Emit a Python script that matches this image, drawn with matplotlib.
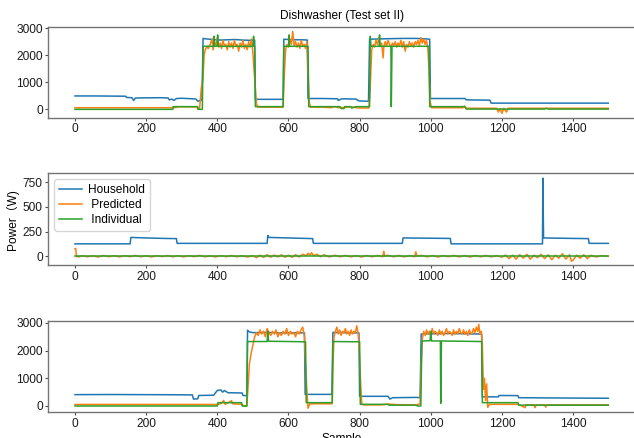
import numpy as np
import matplotlib
matplotlib.use("Agg")
import matplotlib.pyplot as plt

plt.rcParams['font.family'] = ['Liberation Sans', 'Noto Sans CJK SC', 'DejaVu Sans']
plt.rcParams['font.size'] = 8.6

title = "Dishwasher (Test set II)"
ylabel = "Power（W)"
xlabel = "Sample"
labels = ["Household", " Predicted", " Individual"]
colors = ["#1f77b4", "#ff7f0e", "#2ca02c"]
xticks = [0, 200, 400, 600, 800, 1000, 1200, 1400]

# ---------------- Panel 1 ----------------
p1_household = [(0,495),(60,495),(100,490),(142,485),(145,440),(160,430),(165,330),(170,420),(200,425),
    (240,430),(262,420),(265,350),(272,380),(278,330),(285,400),(300,410),(330,390),(340,380),(345,300),
    (352,330),(357,350),(360,2620),(370,2600),(380,2590),(395,2570),(410,2560),(430,2570),(450,2580),
    (470,2560),(490,2550),(505,2560),(507,370),(585,370),(587,2590),(600,2580),(620,2570),(640,2570),
    (653,2560),(655,400),(700,400),(738,390),(740,330),(750,390),(790,380),(795,330),(800,310),(825,300),
    (828,2590),(850,2600),(880,2610),(920,2620),(960,2620),(990,2600),(997,2590),(999,400),(1096,400),
    (1100,350),(1166,340),(1170,230),(1499,230)]
p1_predicted = [(0,60),(270,60),(285,70),(290,95),(343,90),(345,10),(350,20),(352,300),(355,800),(357,900),
    (360,1200),(363,2000),(366,2200),(370,2300),(375,2250),(380,2400),(385,2600),(388,2200),(392,2500),
    (396,2350),(400,2650),(404,2300),(408,2450),(412,2250),(416,2550),(420,2350),(424,2400),(428,2200),
    (432,2500),(436,2300),(440,2450),(444,2250),(448,2550),(452,2350),(456,2400),(460,2150),(464,2450),
    (468,2300),(472,2550),(476,2250),(480,2400),(484,2200),(488,2500),(492,2300),(496,2600),(500,2100),
    (503,1500),(507,800),(510,200),(515,80),(585,80),(588,1200),(592,2200),(596,2400),(600,2300),
    (604,2600),(608,2400),(612,2880),(616,2350),(620,2500),(624,2300),(628,2450),(632,2250),(636,2550),
    (640,2350),(644,2400),(648,2250),(652,2500),(655,1500),(658,300),(662,80),(700,80),(720,60),(730,100),
    (740,60),(760,70),(780,90),(790,60),(800,50),(826,50),(829,600),(831,1200),(834,2200),(838,2400),
    (842,2300),(846,2550),(850,2400),(854,2650),(858,2350),(862,2450),(866,1900),(868,2300),(872,2500),
    (876,2350),(880,2550),(884,2400),(888,2300),(892,2450),(896,2350),(900,2500),(904,2300),(908,2450),
    (912,2350),(916,2550),(920,2300),(924,2500),(928,2150),(932,2400),(936,2300),(940,2500),(944,2350),
    (948,2450),(952,2300),(956,2500),(960,2400),(964,2550),(968,2350),(972,2650),(976,2450),(980,2600),
    (984,2400),(988,2550),(992,2200),(995,1500),(998,300),(1002,60),(1090,60),(1095,120),(1100,40),
    (1185,40),(1190,-100),(1195,30),(1200,-150),(1205,40),(1213,-100),(1217,40),(1499,40)]
p1_individual = [(0,0),(275,0),(276,100),(345,100),(346,0),(358,0),(360,2330),(390,2330),(391,2700),
    (392,2330),(400,2330),(401,2750),(402,2330),(500,2330),(502,2700),(504,2330),(505,2330),(507,100),
    (585,100),(587,2330),(601,2330),(602,2750),(603,2330),(655,2330),(657,100),(745,100),(748,30),
    (756,30),(758,100),(775,100),(778,50),(790,100),(828,100),(830,2700),(832,2330),(855,2330),
    (856,2750),(857,2330),(888,2330),(889,100),(891,2330),(995,2330),(997,100),(1095,100),(1100,10),
    (1320,10),(1325,40),(1330,10),(1499,10)]

# ---------------- Panel 2 ----------------
p2_household = [(0,125),(155,125),(157,190),(200,185),(250,180),(285,178),(287,130),(540,130),(542,210),
    (545,190),(600,185),(668,178),(670,130),(920,130),(922,185),(1000,182),(1055,180),(1057,125),
    (1314,125),(1315,790),(1317,185),(1400,180),(1443,178),(1445,130),(1499,130)]
p2_predicted = [(0,75),(2,80),(4,-5),(6,5),(10,-8),(20,6),(35,-6),(50,4),(65,-8),(80,7),(95,-5),(110,5),
    (125,-7),(140,6),(155,-5),(170,8),(185,-6),(200,5),(215,-8),(230,6),(245,-4),(260,7),(275,-6),(290,5),
    (305,-7),(320,6),(335,-5),(350,8),(365,-6),(380,4),(395,-7),(410,6),(425,-5),(440,7),(455,-6),(470,5),
    (485,-8),(500,6),(510,-15),(520,10),(530,-12),(540,15),(550,-10),(560,12),(570,-8),(580,14),(590,-10),
    (600,10),(610,-12),(620,15),(630,-8),(640,20),(650,5),(655,30),(660,10),(665,35),(670,5),(680,20),
    (690,-5),(700,15),(715,-8),(730,10),(745,-6),(760,8),(775,-7),(790,6),(805,-8),(820,7),(835,-6),
    (850,8),(865,-5),(868,50),(871,0),(880,10),(895,-6),(910,8),(925,-7),(940,6),(955,-5),(958,45),
    (961,0),(975,8),(990,-6),(1005,7),(1020,-8),(1035,6),(1050,-5),(1065,8),(1080,-7),(1095,6),(1110,-8),
    (1125,7),(1140,-6),(1155,8),(1170,-7),(1185,6),(1200,-10),(1210,12),(1220,-25),(1230,10),(1240,-30),
    (1250,15),(1260,-20),(1270,20),(1280,-30),(1290,10),(1300,-15),(1310,20),(1320,-25),(1330,15),
    (1340,-35),(1350,10),(1360,-20),(1370,25),(1380,-30),(1390,15),(1395,-50),(1400,-40),(1410,10),
    (1420,-20),(1430,15),(1440,-25),(1450,10),(1465,-8),(1480,6),(1499,0)]
p2_individual = [(0,0),(1499,0)]

# ---------------- Panel 3 ----------------
p3_household = [(0,410),(100,415),(200,410),(300,405),(330,400),(333,250),(345,260),(348,380),(390,390),
    (395,480),(400,560),(410,580),(415,500),(420,560),(430,480),(470,470),(472,380),(483,370),(485,2740),
    (490,2680),(500,2650),(540,2660),(580,2640),(620,2650),(645,2640),(647,420),(722,420),(725,2660),
    (760,2650),(798,2640),(800,350),(880,350),(885,250),(893,300),(960,310),(970,300),(973,2600),
    (1000,2610),(1050,2620),(1100,2610),(1143,2600),(1145,330),(1190,330),(1192,380),(1245,375),
    (1247,300),(1350,290),(1499,280)]
p3_predicted = [(0,55),(390,55),(400,60),(410,80),(418,200),(422,60),(440,190),(443,80),(470,60),(473,0),
    (483,0),(486,600),(490,1500),(495,1900),(500,2200),(505,2500),(510,2650),(515,2550),(520,2750),
    (525,2600),(530,2700),(535,2500),(540,2800),(545,2650),(550,2550),(555,2700),(560,2600),(565,2750),
    (570,2500),(575,2650),(580,2550),(585,2700),(590,2600),(595,2800),(600,2550),(605,2700),(610,2600),
    (615,2650),(620,2500),(625,2700),(630,2600),(635,2750),(640,2850),(645,2500),(648,1500),(652,500),
    (655,-80),(660,80),(723,80),(725,1500),(728,2500),(732,2700),(736,2850),(740,2600),(744,2750),
    (748,2550),(752,2700),(756,2650),(760,2800),(764,2600),(768,2700),(772,2550),(776,2750),(780,2600),
    (784,2700),(788,2650),(792,2900),(796,2600),(799,2000),(803,800),(806,100),(810,40),(860,40),(880,70),
    (900,50),(960,40),(970,80),(973,1500),(976,2400),(980,2700),(984,2550),(988,2750),(992,2600),
    (996,2700),(1000,2550),(1004,2800),(1008,2600),(1012,2700),(1016,2650),(1020,2550),(1024,2750),
    (1028,2600),(1032,2700),(1036,2550),(1040,2650),(1044,2800),(1048,2600),(1052,2700),(1056,2650),
    (1060,2550),(1064,2750),(1068,2600),(1072,2700),(1076,2600),(1080,2800),(1084,2650),(1088,2600),
    (1092,2750),(1096,2600),(1100,2700),(1104,2550),(1108,2750),(1112,2650),(1116,2600),(1120,2800),
    (1124,2650),(1128,2850),(1132,2700),(1135,2950),(1138,2600),(1142,2700),(1145,2200),(1148,600),
    (1151,1000),(1154,200),(1157,800),(1160,-50),(1165,60),(1245,60),(1250,40),(1265,-60),(1268,40),
    (1290,40),(1293,-60),(1296,40),(1320,40),(1323,-40),(1326,40),(1499,40)]
p3_individual = [(0,0),(400,0),(402,120),(468,120),(470,0),(483,0),(485,2330),(540,2330),(542,2700),
    (544,2340),(600,2330),(648,2320),(650,120),(723,120),(725,2330),(800,2320),(802,60),(880,60),(882,30),
    (960,30),(962,0),(972,0),(975,2350),(998,2360),(1000,2700),(1002,2350),(1027,2350),(1028,100),
    (1030,2350),(1143,2330),(1145,120),(1245,120),(1247,30),(1499,30)]

panels = [
    (p1_household, p1_predicted, p1_individual, (-301, 3031), [0, 1000, 2000, 3000]),
    (p2_household, p2_predicted, p2_individual, (-92, 839), [0, 250, 500, 750]),
    (p3_household, p3_predicted, p3_individual, (-228, 3072), [0, 1000, 2000, 3000]),
]

W, H = 634, 438
fig = plt.figure(figsize=(W / 100, H / 100), dpi=100)
boxes = [(27.3, 117.5), (173.3, 265.3), (321.0, 412.3)]
left_px, right_px = 48.3, 635.0

axes = []
for (top, bot), (hh, pr, ind, ylim, yt) in zip(boxes, panels):
    ax = fig.add_axes([left_px / W, 1 - bot / H, (right_px - left_px) / W, (bot - top) / H])
    for series, c, lab in zip((hh, pr, ind), colors, labels):
        xs = [p[0] for p in series]
        ys = [p[1] for p in series]
        ax.plot(xs, ys, color=c, lw=1.1, label=lab)
    ax.set_xlim(-75, 1574)
    ax.set_ylim(*ylim)
    ax.set_xticks(xticks)
    ax.set_yticks(yt)
    for s in ax.spines.values():
        s.set_color('0.45')
        s.set_linewidth(1.0)
    ax.tick_params(colors='0.3', labelcolor='0.1', length=2.5, width=0.8, pad=1.5)
    axes.append(ax)

axes[0].set_title(title, fontsize=8.6, pad=6)
axes[1].set_ylabel(ylabel)
axes[1].yaxis.set_label_coords((19.5 - left_px) / (right_px - left_px), 0.5)
axes[1].legend(loc='upper left', frameon=True, handlelength=1.9, handletextpad=0.55,
               labelspacing=0.25, borderpad=0.4, borderaxespad=0.5)
axes[2].set_xlabel(xlabel, labelpad=2)

fig.savefig("out.png", dpi=100)
